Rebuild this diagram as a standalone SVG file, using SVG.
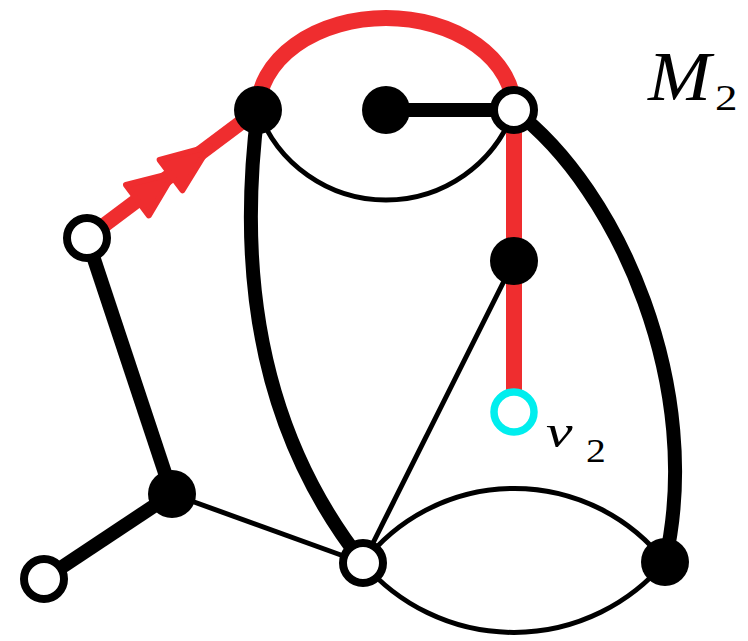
<svg xmlns="http://www.w3.org/2000/svg" width="748" height="641" viewBox="0 0 748 641">
<style>
.red{fill:none;stroke:#ef2d2f;stroke-width:16}
.thick{fill:none;stroke:#000;stroke-width:14}
.thin{fill:none;stroke:#000;stroke-width:5}
.filled{fill:#000}
.open{fill:#fff;stroke:#000;stroke-width:8}
.cyan{fill:#fff;stroke:#00eeee;stroke-width:7.5}
.head{fill:#ef2d2f;stroke:#ef2d2f;stroke-width:6;stroke-linejoin:round}
.lbl{font-family:"Liberation Serif","DejaVu Serif",serif;fill:#000}
</style>
<rect width="748" height="641" fill="#fff"/>
<g id="connectors">
  <path class="red" d="M 258 110 A 128 92 0 0 1 514 110"/>
  <path class="thin" d="M 258 110 A 136 136 0 0 0 514 110"/>
  <line class="thick" x1="386" y1="110" x2="514" y2="110"/>
  <line class="red" x1="514" y1="110" x2="514" y2="412"/>
  <line class="thin" x1="514" y1="261" x2="363" y2="563"/>
  <path class="thick" d="M 514 110 C 620 190 705 390 665 562"/>
  <path class="thick" d="M 258 110 C 240 250 250 420 363 563"/>
  <path class="thin" d="M 363 563 A 191 191 0 0 1 665 562"/>
  <path class="thin" d="M 363 563 A 198 198 0 0 0 665 562"/>
  <line class="thin" x1="172" y1="494" x2="363" y2="563"/>
  <line class="thick" x1="172" y1="494" x2="44" y2="579"/>
  <line class="thick" x1="87" y1="238" x2="172" y2="494"/>
  <g transform="translate(87 238) rotate(-36.83)">
    <line x1="0" y1="0" x2="213" y2="0" stroke="#ef2d2f" stroke-width="15"/>
    <path class="head" d="M 109 0 L 63 -19 L 63 19 Z"/>
    <path class="head" d="M 153 0 L 105 -19 L 105 19 Z"/>
  </g>
</g>
<g id="nA"><circle class="filled" cx="258" cy="110" r="24"/></g>
<g id="nB"><circle class="filled" cx="386" cy="110" r="24"/></g>
<g id="nC"><circle class="open" cx="514" cy="110" r="20"/></g>
<g id="nD"><circle class="filled" cx="514" cy="261" r="24"/></g>
<g id="nV2"><circle class="cyan" cx="514" cy="412" r="20"/></g>
<g id="nF"><circle class="open" cx="87" cy="238" r="20"/></g>
<g id="nG"><circle class="filled" cx="172" cy="494" r="24"/></g>
<g id="nH"><circle class="open" cx="44" cy="579" r="20"/></g>
<g id="nI"><circle class="open" cx="363" cy="563" r="20"/></g>
<g id="nJ"><circle class="filled" cx="665" cy="562" r="24"/></g>
<g id="labels">
  <text class="lbl" transform="translate(648 100) scale(1.08 1)" font-size="70" font-style="italic">M</text>
  <text class="lbl" transform="translate(715 110) scale(1.25 1)" font-size="36">2</text>
  <text class="lbl" transform="translate(546 447) scale(1.3 1)" font-size="46" font-style="italic">v</text>
  <text class="lbl" transform="translate(586 462) scale(1.2 1)" font-size="33">2</text>
</g>
</svg>
